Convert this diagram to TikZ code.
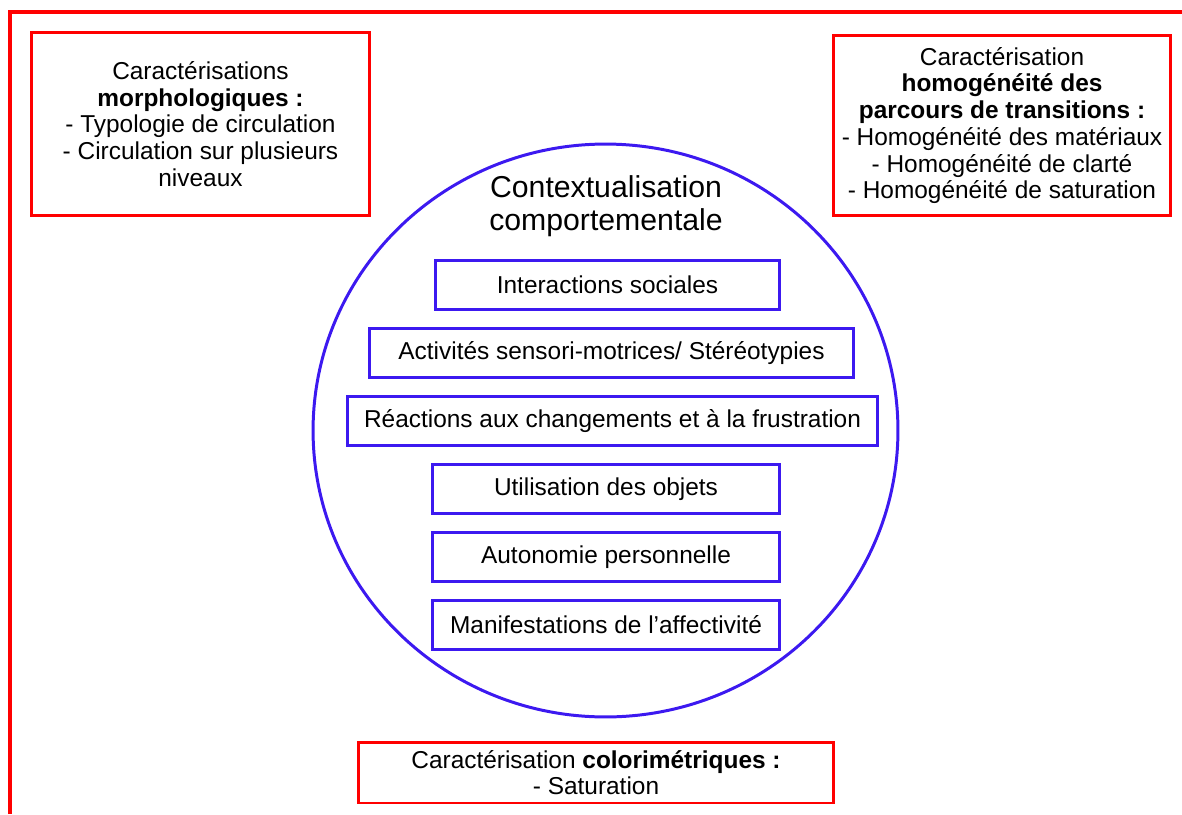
\documentclass[tikz,border=0pt]{standalone}
\usepackage{fontspec}
\setmainfont{Liberation Sans}
\usepackage{tikz}
\usetikzlibrary{positioning,shapes.geometric}
\definecolor{framered}{RGB}{255,0,0}
\definecolor{boxblue}{RGB}{60,25,240}
\newcommand{\diagfont}{\fontsize{13.9}{15.2}\selectfont}
\newcommand{\titlefont}{\fontsize{17.2}{18.8}\selectfont}

\begin{document}
\begin{tikzpicture}[x=0.02cm,y=-0.02cm,
  redbox/.style={draw=framered,line width=1.7pt,align=center,inner sep=0pt,font=\diagfont},
  itembox/.style={draw=boxblue,line width=1.7pt,minimum height=0.98cm,inner sep=0pt,font=\diagfont},
  node distance=0.32cm]
\useasboundingbox (0,0) rectangle (1182,814);
\draw[framered,line width=2.2pt] (10,814) -- (10,12) -- (1182,12);
\node[redbox,minimum width=6.78cm,minimum height=3.68cm] (morpho) at (200.5,124) {Caractérisations\\\textbf{morphologiques :}\\- Typologie de circulation\\- Circulation sur plusieurs\\niveaux};
\node[redbox,minimum width=6.76cm,minimum height=3.62cm] (homog) at (1002,125.5) {Caractérisation\\\textbf{homogénéité des}\\\textbf{parcours de transitions :}\\- Homogénéité des matériaux\\- Homogénéité de clarté\\- Homogénéité de saturation};
\node[redbox,minimum width=9.52cm,minimum height=1.22cm] (color) at (596,772.5) {Caractérisation \textbf{colorimétriques :}\\- Saturation};
\node[ellipse,draw=boxblue,line width=1.7pt,minimum width=11.7cm,minimum height=11.46cm,inner sep=0pt] (ctx) at (605.5,430.5) {};
\node[font=\titlefont,align=center] (ctxtitle) at (606,206) {Contextualisation\\comportementale};
\node[itembox,minimum width=6.9cm] (social) at (607.5,285) {Interactions sociales};
\node[itembox,minimum width=9.7cm,below=of social,xshift=0.08cm] (sensori) {Activités sensori-motrices/ Stéréotypies};
\node[itembox,minimum width=10.62cm,below=of sensori,xshift=0.02cm] (reaction) {Réactions aux changements et à la frustration};
\node[itembox,minimum width=6.96cm,below=of reaction,xshift=-0.13cm] (objets) {Utilisation des objets};
\node[itembox,minimum width=6.96cm,below=of objets] (autonomie) {Autonomie personnelle};
\node[itembox,minimum width=6.96cm,below=of autonomie] (affect) {Manifestations de l’affectivité};
\end{tikzpicture}
\end{document}
